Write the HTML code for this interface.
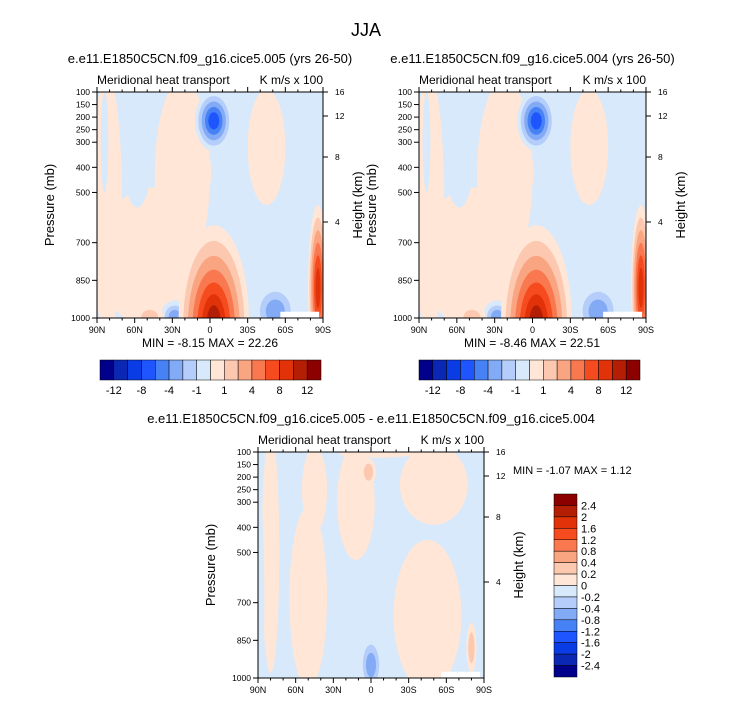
<!DOCTYPE html>
<html><head><meta charset="utf-8"><style>
html,body{margin:0;padding:0;background:#fff;}
svg{display:block;font-family:"Liberation Sans",sans-serif;}
</style></head><body>
<svg id="fig" width="733" height="703" viewBox="0 0 733 703" xmlns="http://www.w3.org/2000/svg">
<text x="366" y="36" font-size="18" text-anchor="middle">JJA</text>
</svg>
<script>
// ---- data ----
const palette = ['#00008a','#0a28b4','#0a3ce6','#1e55ff','#4682f5','#82aaf5','#b4cdfa','#d7e9fa','#ffe6d7','#fcc8af','#faa582','#fa7850','#f54b1e','#e1320a','#b41e05','#8c0000'];
const topCbLabels = ['-12','-8','-4','-1','1','4','8','12'];
const botCbLabels = ['2.4','2','1.6','1.2','0.8','0.4','0.2','0','-0.2','-0.4','-0.8','-1.2','-1.6','-2','-2.4'];
const latTicks = [90,60,30,0,-30,-60,-90];
const latLabels = ['90N','60N','30N','0','30S','60S','90S'];
const presTicks = [100,150,200,250,300,400,500,700,850,1000];
const heightTicks = [16,12,8,4];
const heightOffsets = [0,24,65,130];
// blobs: lat, pressure, signed peak levels (0 = neutral/background level), half-width (deg), half-height (mb)
const topLat  = [82, 45, 22, -45, 5, 58, 84, 28, -3, -3, -52, -86, 48];
const topP    = [550, 760, 430, 320, 420, 330, 300, 990, 215, 1010, 965, 880, 995];
const topPeak = [1, 1, 1, 1, 1, 0, 0, -3, -5, 7, -3, 6, 2];
const topW    = [12, 45, 22, 15, 6, 12, 3, 11, 15, 28, 17, 8, 11];
const topH    = [520, 280, 380, 230, 90, 230, 200, 60, 120, 380, 105, 330, 50];
const botLat  = [80, 50, 45, 12, -45, -50, -5, 2, 0, -80, 88];
const botP    = [500, 680, 250, 300, 750, 230, 108, 180, 940, 880, 700];
const botPeak = [1, 1, 1, 1, 1, 1, 1, 2, -3, 2, 0];
const botW    = [7, 15, 10, 15, 27, 27, 30, 6, 9, 4, 3];
const botH    = [480, 360, 170, 230, 300, 160, 14, 55, 110, 100, 400];
const minMax = [['-8.15','22.26'],['-8.46','22.51'],['-1.07','1.12']];

const NS='http://www.w3.org/2000/svg';
const svg=document.getElementById('fig');
function mk(tag,attrs,parent){const e=document.createElementNS(NS,tag);for(const k in attrs)e.setAttribute(k,attrs[k]);(parent||svg).appendChild(e);return e;}
function txt(x,y,s,size,anchor,parent){const t=mk('text',{x:x,y:y,'font-size':size,'text-anchor':anchor||'middle'},parent);t.textContent=s;return t;}

function panel(x0,y0,w,h,lats,ps,peaks,ws,hs,name,title){
  const g=mk('g',{});
  
  
  const X=lat=>x0+(90-lat)/180*w;
  const Y=p=>y0+(p-100)/900*h;
  const clipId='clip-'+name;
  const cp=mk('clipPath',{id:clipId},g);mk('rect',{x:x0,y:y0,width:w,height:h},cp);
  const field=mk('g',{'clip-path':'url(#'+clipId+')'},g);
  
  
  mk('rect',{x:x0,y:y0,width:w,height:h,fill:palette[7]},field);
  for(let i=0;i<lats.length;i++){
    const n=Math.max(1,Math.abs(peaks[i]));
    for(let k=0;k<n;k++){
      const idx=peaks[i]===0?7:(peaks[i]>0?8+k:7-k);
      const s=1-k/(n+0.6);
      const cx=X(lats[i]), cy=Y(ps[i]);
      const rx=ws[i]/180*w*s, ry=hs[i]/900*h*s;
      const e=mk('ellipse',{cx:cx,cy:cy+(ps[i]>900?(1-s)*ry*0.3:0),rx:rx,ry:ry,fill:palette[idx]},field);
      
      
    }
  }
  mk('rect',{x:X(-56),y:Y(975),width:X(-87)-X(-56),height:Y(1000)-Y(975),fill:'#fff'},field);
  mk('rect',{x:x0,y:y0,width:w,height:h,fill:'none',stroke:'#000','stroke-width':1},g);
  latTicks.forEach((l,i)=>{
    mk('line',{x1:X(l),x2:X(l),y1:y0+h,y2:y0+h+5,stroke:'#000'},g);
    mk('line',{x1:X(l),x2:X(l),y1:y0,y2:y0-5,stroke:'#000'},g);
    txt(X(l),y0+h+15,latLabels[i],9,'middle',g);
  });
  for(let l=80;l>-90;l-=10){ if(l%30!==0){mk('line',{x1:X(l),x2:X(l),y1:y0+h,y2:y0+h+2.5,stroke:'#000'},g);mk('line',{x1:X(l),x2:X(l),y1:y0,y2:y0-2.5,stroke:'#000'},g);} }
  presTicks.forEach(p=>{
    mk('line',{x1:x0,x2:x0-5,y1:Y(p),y2:Y(p),stroke:'#000'},g);
    txt(x0-7,Y(p)+3,String(p),8.5,'end',g);
  });
  heightTicks.forEach((hv,i)=>{
    mk('line',{x1:x0+w,x2:x0+w+5,y1:y0+heightOffsets[i],y2:y0+heightOffsets[i],stroke:'#000'},g);
    txt(x0+w+12,y0+heightOffsets[i]+3,String(hv),8.5,'start',g);
  });
  const yl=txt(0,0,'Pressure (mb)',13,'middle',g);
  yl.setAttribute('transform','translate('+(x0-43)+','+(y0+h/2)+') rotate(-90)');
  
  const yr=txt(0,0,'Height (km)',13,'middle',g);
  yr.setAttribute('transform','translate('+(x0+w+39)+','+(y0+h/2)+') rotate(-90)');
  
  txt(x0,y0-8,'Meridional heat transport',12,'start',g);
  txt(x0+w,y0-8,'K m/s x 100',12,'end',g);
  const t=txt(x0+w/2,y0-29,title,13,'middle',g);
  
  
}

function hbar(x0,y0,w,h,name){
  const g=mk('g',{});
  
  
  const bw=w/palette.length;
  palette.forEach((c,i)=>{
    const r=mk('rect',{x:x0+i*bw,y:y0,width:bw,height:h,fill:c,stroke:'#000','stroke-width':0.5},g);
    
    
  });
  topCbLabels.forEach((l,i)=>txt(x0+(2*i+1)*bw,y0+h+14,l,11,'middle',g));
}

panel(97,92,226,226,topLat,topP,topPeak,topW,topH,'panel-005','e.e11.E1850C5CN.f09_g16.cice5.005 (yrs 26-50)');
panel(419,92,227,226,topLat,topP,topPeak,topW,topH,'panel-004','e.e11.E1850C5CN.f09_g16.cice5.004 (yrs 26-50)');
panel(258,452,226,226,botLat,botP,botPeak,botW,botH,'panel-diff','e.e11.E1850C5CN.f09_g16.cice5.005 - e.e11.E1850C5CN.f09_g16.cice5.004');

txt(210,347,'MIN =  '+minMax[0][0]+'  MAX =  '+minMax[0][1],12);
txt(532,347,'MIN =  '+minMax[1][0]+'  MAX =  '+minMax[1][1],12);
txt(513,474,'MIN =  '+minMax[2][0]+'  MAX =  '+minMax[2][1],11,'start');

hbar(100,360,221,20,'colorbar-left');
hbar(419,360,221,20,'colorbar-right');

const vg=mk('g',{});


const vb=183/palette.length;
for(let i=0;i<palette.length;i++){
  const r=mk('rect',{x:554,y:494+i*vb,width:23,height:vb,fill:palette[palette.length-1-i],stroke:'#000','stroke-width':0.5},vg);
  
  
}
botCbLabels.forEach((l,i)=>txt(581,494+(i+1)*vb+4,l,11,'start',vg));
</script>
</body></html>
